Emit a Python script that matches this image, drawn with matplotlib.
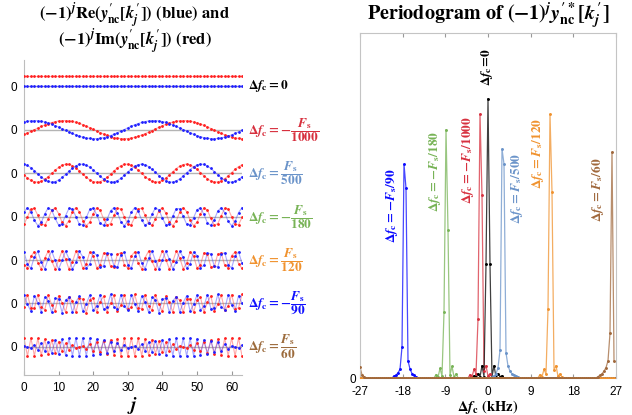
import numpy as np
import matplotlib
matplotlib.use('Agg')
import matplotlib.pyplot as plt

plt.rcParams['mathtext.fontset'] = 'custom'
plt.rcParams['mathtext.rm'] = 'STIXGeneral:bold'
plt.rcParams['mathtext.it'] = 'STIXGeneral:italic:bold'
plt.rcParams['mathtext.bf'] = 'STIXGeneral:bold'
plt.rcParams['mathtext.sf'] = 'STIXGeneral:bold'
plt.rcParams['font.family'] = ['Liberation Sans', 'DejaVu Sans']

# ---------------- data: left panel (64 samples per trace) ----------------
j_idx = list(range(64))

re_row1 = [0.0] * 64
im_row1 = [1.1] * 64

re_row2 = [0.85,0.93,0.98,1.00,0.98,0.93,0.85,0.75,0.61,0.46,
           0.29,0.11,-0.07,-0.25,-0.42,-0.58,-0.72,-0.83,-0.92,-0.97,
           -1.00,-0.99,-0.95,-0.88,-0.77,-0.65,-0.50,-0.33,-0.16,0.02,
           0.21,0.38,0.54,0.68,0.80,0.90,0.96,1.00,1.00,0.96,
           0.90,0.80,0.68,0.54,0.37,0.20,0.02,-0.16,-0.34,-0.50,
           -0.65,-0.78,-0.88,-0.95,-0.99,-1.00,-0.97,-0.91,-0.83,-0.71,
           -0.57,-0.41,-0.24,-0.06]
im_row2 = [-0.52,-0.36,-0.18,0.00,0.18,0.36,0.52,0.67,0.79,0.89,
           0.96,0.99,1.00,0.97,0.91,0.82,0.70,0.56,0.40,0.22,
           0.04,-0.14,-0.32,-0.48,-0.63,-0.76,-0.87,-0.94,-0.99,-1.00,
           -0.98,-0.93,-0.84,-0.73,-0.59,-0.44,-0.27,-0.09,0.09,0.27,
           0.44,0.60,0.73,0.84,0.93,0.98,1.00,0.99,0.94,0.86,
           0.76,0.63,0.48,0.31,0.13,-0.05,-0.23,-0.40,-0.56,-0.70,
           -0.82,-0.91,-0.97,-1.00]

re_row3 = [0.98,0.85,0.60,0.28,-0.08,-0.43,-0.73,-0.92,-1.00,-0.94,
           -0.76,-0.48,-0.14,0.22,0.55,0.81,0.97,0.99,0.89,0.67,
           0.36,0.00,-0.35,-0.66,-0.89,-0.99,-0.97,-0.82,-0.56,-0.23,
           0.13,0.48,0.76,0.94,1.00,0.93,0.73,0.44,0.09,-0.27,
           -0.59,-0.84,-0.98,-0.99,-0.87,-0.63,-0.31,0.05,0.40,0.70,
           0.91,1.00,0.96,0.79,0.52,0.18,-0.18,-0.52,-0.79,-0.96,
           -1.00,-0.91,-0.70,-0.40]
im_row3 = [-0.20,-0.53,-0.80,-0.96,-1.00,-0.90,-0.69,-0.38,-0.03,0.33,
           0.64,0.87,0.99,0.98,0.83,0.58,0.25,-0.11,-0.46,-0.74,
           -0.93,-1.00,-0.94,-0.75,-0.46,-0.12,0.25,0.58,0.83,0.97,
           0.99,0.88,0.65,0.34,-0.02,-0.38,-0.68,-0.90,-1.00,-0.96,
           -0.80,-0.54,-0.20,0.16,0.50,0.78,0.95,1.00,0.92,0.71,
           0.42,0.07,-0.29,-0.61,-0.86,-0.98,-0.98,-0.85,-0.61,-0.29,
           0.07,0.42,0.72,0.92]

re_row4 = [0.50,1.00,0.56,-0.41,-0.99,-0.64,0.31,0.97,0.72,-0.21,
           -0.94,-0.79,0.10,0.90,0.85,0.00,-0.85,-0.90,-0.10,0.79,
           0.94,0.21,-0.72,-0.97,-0.31,0.64,0.99,0.41,-0.56,-1.00,
           -0.50,0.47,1.00,0.59,-0.37,-0.98,-0.67,0.28,0.96,0.74,
           -0.17,-0.93,-0.81,0.07,0.88,0.87,0.03,-0.83,-0.91,-0.14,
           0.77,0.95,0.24,-0.69,-0.98,-0.34,0.62,0.99,0.44,-0.53,
           -1.00,-0.53,0.44,0.99]
im_row4 = [-0.87,-0.03,0.83,0.91,0.14,-0.77,-0.95,-0.24,0.69,0.98,
           0.34,-0.62,-0.99,-0.44,0.53,1.00,0.53,-0.44,-0.99,-0.62,
           0.34,0.98,0.69,-0.24,-0.95,-0.77,0.14,0.91,0.83,-0.03,
           -0.87,-0.88,-0.07,0.81,0.93,0.17,-0.74,-0.96,-0.28,0.67,
           0.98,0.37,-0.59,-1.00,-0.47,0.50,1.00,0.56,-0.41,-0.99,
           -0.64,0.31,0.97,0.72,-0.21,-0.94,-0.79,0.10,0.90,0.85,
           0.00,-0.85,-0.90,-0.10]

re_row5 = [0.87,-0.45,-0.91,0.36,0.95,-0.26,-0.98,0.16,0.99,-0.05,
           -1.00,-0.05,0.99,0.16,-0.98,-0.26,0.95,0.36,-0.91,-0.45,
           0.87,0.54,-0.81,-0.63,0.74,0.71,-0.67,-0.78,0.59,0.84,
           -0.50,-0.89,0.41,0.93,-0.31,-0.97,0.21,0.99,-0.10,-1.00,
           0.00,1.00,0.10,-0.99,-0.21,0.97,0.31,-0.93,-0.41,0.89,
           0.50,-0.84,-0.59,0.78,0.67,-0.71,-0.74,0.63,0.81,-0.54,
           -0.87,0.45,0.91,-0.36]
im_row5 = [-0.50,-0.89,0.41,0.93,-0.31,-0.97,0.21,0.99,-0.10,-1.00,
           0.00,1.00,0.10,-0.99,-0.21,0.97,0.31,-0.93,-0.41,0.89,
           0.50,-0.84,-0.59,0.78,0.67,-0.71,-0.74,0.63,0.81,-0.54,
           -0.87,0.45,0.91,-0.36,-0.95,0.26,0.98,-0.16,-0.99,0.05,
           1.00,0.05,-0.99,-0.16,0.98,0.26,-0.95,-0.36,0.91,0.45,
           -0.87,-0.54,0.81,0.63,-0.74,-0.71,0.67,0.78,-0.59,-0.84,
           0.50,0.89,-0.41,-0.93]

re_row6 = [0.94,-0.10,-0.85,0.85,0.10,-0.94,0.72,0.31,-0.99,0.56,
           0.50,-1.00,0.37,0.67,-0.96,0.17,0.81,-0.88,-0.03,0.91,
           -0.77,-0.24,0.98,-0.62,-0.44,1.00,-0.44,-0.62,0.98,-0.24,
           -0.77,0.91,-0.03,-0.88,0.81,0.17,-0.96,0.67,0.37,-1.00,
           0.50,0.56,-0.99,0.31,0.72,-0.94,0.10,0.85,-0.85,-0.10,
           0.94,-0.72,-0.31,0.99,-0.56,-0.50,1.00,-0.37,-0.67,0.96,
           -0.17,-0.81,0.88,0.03]
im_row6 = [-0.34,0.99,-0.53,-0.53,0.99,-0.34,-0.69,0.95,-0.14,-0.83,
           0.87,0.07,-0.93,0.74,0.28,-0.98,0.59,0.47,-1.00,0.41,
           0.64,-0.97,0.21,0.79,-0.90,0.00,0.90,-0.79,-0.21,0.97,
           -0.64,-0.41,1.00,-0.47,-0.59,0.98,-0.28,-0.74,0.93,-0.07,
           -0.87,0.83,0.14,-0.95,0.69,0.34,-0.99,0.53,0.53,-0.99,
           0.34,0.69,-0.95,0.14,0.83,-0.87,-0.07,0.93,-0.74,-0.28,
           0.98,-0.59,-0.47,1.00]

re_row7 = [0.10,0.00,-0.10,0.21,-0.31,0.41,-0.50,0.59,-0.67,0.74,
           -0.81,0.87,-0.91,0.95,-0.98,0.99,-1.00,0.99,-0.98,0.95,
           -0.91,0.87,-0.81,0.74,-0.67,0.59,-0.50,0.41,-0.31,0.21,
           -0.10,0.00,0.10,-0.21,0.31,-0.41,0.50,-0.59,0.67,-0.74,
           0.81,-0.87,0.91,-0.95,0.98,-0.99,1.00,-0.99,0.98,-0.95,
           0.91,-0.87,0.81,-0.74,0.67,-0.59,0.50,-0.41,0.31,-0.21,
           0.10,0.00,-0.10,0.21]
im_row7 = [0.99,-1.00,0.99,-0.98,0.95,-0.91,0.87,-0.81,0.74,-0.67,
           0.59,-0.50,0.41,-0.31,0.21,-0.10,0.00,0.10,-0.21,0.31,
           -0.41,0.50,-0.59,0.67,-0.74,0.81,-0.87,0.91,-0.95,0.98,
           -0.99,1.00,-0.99,0.98,-0.95,0.91,-0.87,0.81,-0.74,0.67,
           -0.59,0.50,-0.41,0.31,-0.21,0.10,0.00,-0.10,0.21,-0.31,
           0.41,-0.50,0.59,-0.67,0.74,-0.81,0.87,-0.91,0.95,-0.98,
           0.99,-1.00,0.99,-0.98]

row_labels = [r'$\Delta f_{\rm c} = 0$',
              r'$\Delta f_{\rm c} = -\dfrac{F_{\rm s}}{1000}$',
              r'$\Delta f_{\rm c} = \dfrac{F_{\rm s}}{500}$',
              r'$\Delta f_{\rm c} = -\dfrac{F_{\rm s}}{180}$',
              r'$\Delta f_{\rm c} = \dfrac{F_{\rm s}}{120}$',
              r'$\Delta f_{\rm c} = -\dfrac{F_{\rm s}}{90}$',
              r'$\Delta f_{\rm c} = \dfrac{F_{\rm s}}{60}$']
row_label_colors = ['#000000', '#d7303e', '#6a93c9', '#78b356', '#f0922e', '#1010ff', '#9c6b3c']

# ---------------- data: right panel (periodogram, 128 bins) ----------------
pg_nbins = 128
pg_fmin, pg_fmax = -27.0, 27.0
pg_blue_start = 17
pg_blue = [0.006, 0.008, 0.015, 0.025, 0.09, 0.62, 0.55, 0.05, 0.026, 0.013, 0.008, 0.004]
pg_green_start = 38
pg_green = [0.010, 0.002, 0.028, 0.006, 0.19, 0.72, 0.43, 0.009, 0.034, 0.003, 0.012, 0.001]
pg_red_start = 55
pg_red = [0.010, 0.004, 0.025, 0.012, 0.17, 0.765, 0.53, 0.021, 0.036, 0.005, 0.012, 0.002]
pg_black_start = 57
pg_black = [0.007, 0.004, 0.013, 0.003, 0.036, 0.004, 0.33, 0.81, 0.33, 0.004, 0.036, 0.003, 0.013, 0.004, 0.007]
pg_lblue_start = 66
pg_lblue = [0.004, 0.006, 0.012, 0.03, 0.08, 0.664, 0.62, 0.073, 0.035, 0.02, 0.012, 0.008, 0.005, 0.003]
pg_orange_start = 89
pg_orange = [0.001, 0.010, 0.004, 0.025, 0.012, 0.20, 0.765, 0.54, 0.024, 0.036, 0.005, 0.012, 0.002]
pg_brown_start = 119
pg_brown = [0.004, 0.008, 0.012, 0.02, 0.03, 0.05, 0.13, 0.655, 0.05]
pg_brown_wrap = [0.032, 0.009, 0.004]

pg_labels = [r'$\Delta f_{\rm c} = -F_{\rm s}/90$',
             r'$\Delta f_{\rm c} = -F_{\rm s}/180$',
             r'$\Delta f_{\rm c} = -F_{\rm s}/1000$',
             r'$\Delta f_{\rm c}\!=\!0$',
             r'$\Delta f_{\rm c} = F_{\rm s}/500$',
             r'$\Delta f_{\rm c} = F_{\rm s}/120$',
             r'$\Delta f_{\rm c} = F_{\rm s}/60$']
pg_colors = ['#0a0aff', '#77b356', '#d7303e', '#000000', '#6a93c9', '#f0922e', '#a0683c']
xticks_right = [-27, -18, -9, 0, 9, 18, 27]

# ---------------- figure ----------------
W, H = 632, 415
fig = plt.figure(figsize=(W / 100, H / 100), dpi=100)

# ===== left panel =====
axL = fig.add_axes([24 / W, 40 / H, 218 / W, 315 / H])
S = 4.8
rows = [(re_row1, im_row1), (re_row2, im_row2), (re_row3, im_row3), (re_row4, im_row4),
        (re_row5, im_row5), (re_row6, im_row6), (re_row7, im_row7)]
jj = np.array(j_idx)
offsets = []
for r, (re, im) in enumerate(rows):
    off = -r * S
    offsets.append(off)
    axL.plot([0, 63], [off, off], color='#b4b4b4', lw=1.0, zorder=1)
    axL.plot(jj, np.array(im) + off, '-', color='#ff4040', lw=0.8, alpha=0.45, zorder=2)
    axL.plot(jj, np.array(im) + off, '.', color='#ff2020', ms=2.0, zorder=3)
    axL.plot(jj, np.array(re) + off, '-', color='#4040ff', lw=0.8, alpha=0.45, zorder=2)
    axL.plot(jj, np.array(re) + off, '.', color='#2020ff', ms=2.0, zorder=3)
    axL.text(64.8, off, row_labels[r], color=row_label_colors[r], fontsize=9.5,
             ha='left', va='center', clip_on=False)

axL.set_xlim(0, 63)
axL.set_ylim(-31.9, 2.9)
axL.set_yticks(offsets)
axL.set_yticklabels(['0'] * len(offsets))
axL.set_xticks([0, 10, 20, 30, 40, 50, 60])
axL.tick_params(axis='y', length=0, labelsize=8.5, pad=5)
axL.tick_params(axis='x', direction='in', length=3, labelsize=8.5, color='#999999', pad=5)
for s in ['top', 'right']:
    axL.spines[s].set_visible(False)
for s in ['left', 'bottom']:
    axL.spines[s].set_color('#bdbdbd')
fig.text(133 / W, 1 - 405 / H, r'$j$', ha='center', va='center', fontsize=14)

fig.text(135 / W, 1 - 16 / H, r"$(-1)^j\mathrm{Re}(y_{\rm nc}^{\prime}[k_j^{\prime}])\ \mathrm{(blue)\ and}$",
         ha='center', va='center', fontsize=12)
fig.text(135 / W, 1 - 42 / H, r"$(-1)^j\mathrm{Im}(y_{\rm nc}^{\prime}[k_j^{\prime}])\ \mathrm{(red)}$",
         ha='center', va='center', fontsize=12)

# ===== right panel =====
axR = fig.add_axes([360 / W, 37 / H, 256 / W, 345 / H])
freq = pg_fmin + np.arange(pg_nbins) * (pg_fmax - pg_fmin) / pg_nbins

def full_series(start, vals, wrap=None):
    y = np.zeros(pg_nbins)
    y[start:start + len(vals)] = vals
    if wrap is not None:
        y[:len(wrap)] = wrap
    return y

series = [full_series(pg_blue_start, pg_blue),
          full_series(pg_green_start, pg_green),
          full_series(pg_red_start, pg_red),
          full_series(pg_black_start, pg_black),
          full_series(pg_lblue_start, pg_lblue),
          full_series(pg_orange_start, pg_orange),
          full_series(pg_brown_start, pg_brown, pg_brown_wrap)]

for y, c in zip(series, pg_colors):
    axR.plot(freq, y, '-', color=c, lw=0.9, alpha=0.75, zorder=2)
    axR.plot(freq, y, '.', color=c, ms=2.2, zorder=3)

label_pos = [(-20.25, 0.50), (-11.2, 0.60), (-4.2, 0.63), (-0.2, 0.90),
             (6.1, 0.55), (10.55, 0.65), (23.2, 0.545)]
for (x, yy), lab, c in zip(label_pos, pg_labels, pg_colors):
    axR.text(x, yy, lab, rotation=90, color=c, fontsize=9.5, ha='center', va='center')

axR.set_xlim(-27, 27)
axR.set_ylim(0, 1)
axR.set_xticks(xticks_right)
axR.set_xticklabels([str(v) for v in xticks_right])
axR.set_yticks([0])
axR.set_yticklabels(['0'])
axR.tick_params(axis='x', direction='in', length=3, top=True, labelsize=8.5, color='#999999', pad=6)
axR.tick_params(axis='y', length=0, labelsize=8.5, pad=3)
for s in axR.spines.values():
    s.set_color('#c4c4c4')
fig.text(488 / W, 1 - 407 / H, r'$\Delta f_{\rm c}\ \mathrm{(kHz)}$', ha='center', va='center', fontsize=10.5)
fig.text(488 / W, 1 - 16 / H, r"$\mathrm{Periodogram\ of\ }(-1)^j y_{\rm nc}^{\prime *}[k_j^{\prime}]$",
         ha='center', va='center', fontsize=14.5)

fig.savefig('out.png', dpi=100)
